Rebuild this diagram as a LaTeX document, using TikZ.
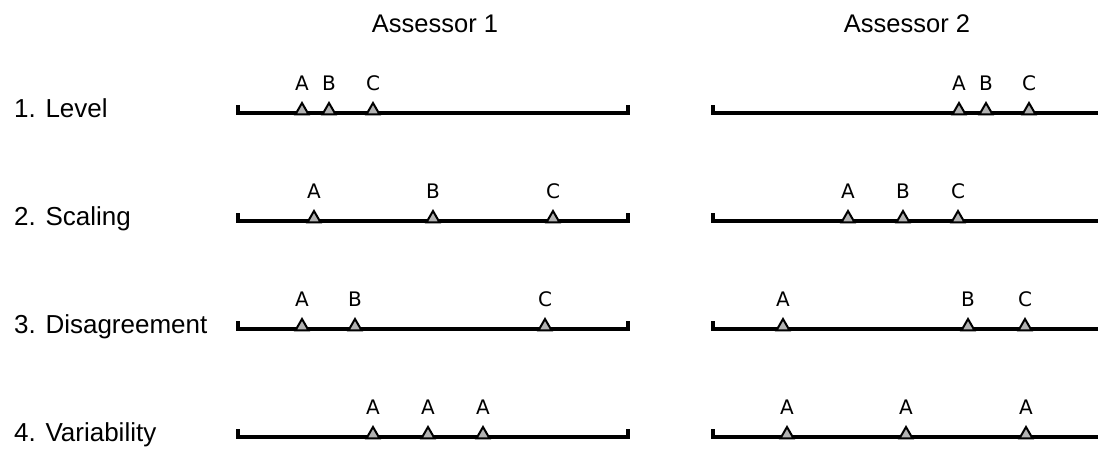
\documentclass[tikz,border=0pt]{standalone}
\usepackage{fontspec}
\setmainfont{Liberation Sans}
\newfontfamily\markfont{DejaVu Sans}
\usetikzlibrary{shapes.geometric}
\tikzset{
  scaleline/.style={line width=3.2pt, line cap=butt},
  marker/.style={draw, fill=gray!60, line width=2pt, regular polygon, regular polygon sides=3, minimum size=15pt, inner sep=0pt},
  letter/.style={font=\markfont\fontsize{20}{20}\selectfont, inner sep=0pt, anchor=center},
  rowlabel/.style={font=\fontsize{26}{26}\selectfont, inner sep=0pt, anchor=base west},
  header/.style={font=\fontsize{25.5}{25.5}\selectfont, inner sep=0pt, anchor=center}
}
\begin{document}
\begin{tikzpicture}[x=1pt, y=-1pt]
\useasboundingbox (0,0) rectangle (1098,451);
\fill[white] (0,0) rectangle (1098,451);
\node[header] (h1) at (435,24) {Assessor 1};
\node[header] (h2) at (907,24) {Assessor 2};
% rows
\foreach \r/\y/\txt in {1/113/{1. Level},2/221/{2. Scaling},3/329/{3. Disagreement},4/437/{4. Variability}}{
  \node[rowlabel] (lab\r) at (14,\y+4) {\txt};
  \coordinate (l\r s) at (238,\y);
  \coordinate (l\r e) at (628,\y);
  \coordinate (r\r s) at (713,\y);
  \coordinate (r\r e) at (1100,\y);
  \draw[scaleline] ([yshift=8pt]l\r s) -- (l\r s) -- (l\r e) -- ([yshift=8pt]l\r e);
  \draw[scaleline] ([yshift=8pt]r\r s) -- (r\r s) -- (r\r e);
}
% markers: row/side/index/x/letter
\foreach \r/\y/\id/\x/\t in {
  1/113/la/302/A, 1/113/lb/329/B, 1/113/lc/373/C,
  1/113/ra/959/A, 1/113/rb/986/B, 1/113/rc/1029/C,
  2/221/la/314/A, 2/221/lb/433/B, 2/221/lc/553/C,
  2/221/ra/848/A, 2/221/rb/903/B, 2/221/rc/958/C,
  3/329/la/302/A, 3/329/lb/355/B, 3/329/lc/545/C,
  3/329/ra/783/A, 3/329/rb/968/B, 3/329/rc/1025/C,
  4/437/la/373/A, 4/437/lb/428/A, 4/437/lc/483/A,
  4/437/ra/787/A, 4/437/rb/906/A, 4/437/rc/1026/A}{
  \node[marker] (m\r\id) at (\x,\y-2.5) {};
  \node[letter] (t\r\id) at (\x,\y-30) {\t};
}
\end{tikzpicture}
\end{document}
